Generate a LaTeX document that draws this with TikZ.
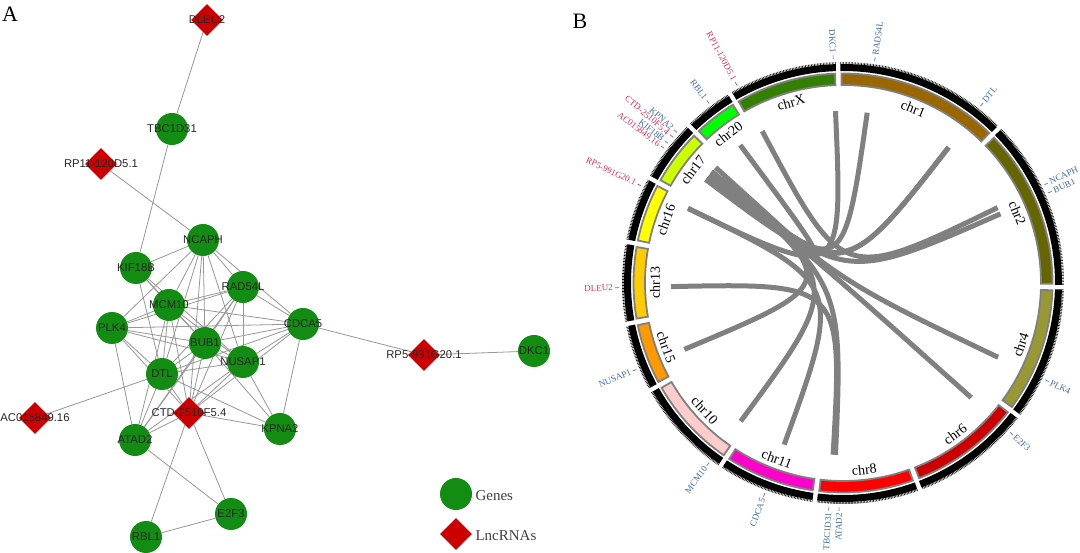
\documentclass[tikz,border=0pt]{standalone}
\usepackage{fontspec}
\setmainfont{Liberation Serif}
\newfontfamily\arialfont{Liberation Sans}
\usetikzlibrary{shapes.geometric}
\definecolor{genegreen}{RGB}{18,140,18}
\definecolor{lncred}{RGB}{204,0,0}
\definecolor{edgegray}{RGB}{150,150,150}
\definecolor{chordgray}{RGB}{128,128,128}
\definecolor{gblue}{RGB}{60,105,175}
\definecolor{gred}{RGB}{228,40,85}
\definecolor{cchr1}{RGB}{153,102,0}
\definecolor{cchr2}{RGB}{102,102,0}
\definecolor{cchr4}{RGB}{153,153,51}
\definecolor{cchr6}{RGB}{204,0,0}
\definecolor{cchr8}{RGB}{255,0,0}
\definecolor{cchr11}{RGB}{255,0,204}
\definecolor{cchr10}{RGB}{255,204,204}
\definecolor{cchr15}{RGB}{255,153,0}
\definecolor{cchr13}{RGB}{255,204,0}
\definecolor{cchr16}{RGB}{255,255,0}
\definecolor{cchr17}{RGB}{204,255,0}
\definecolor{cchr20}{RGB}{0,255,0}
\definecolor{cchrX}{RGB}{51,128,0}
\pgfdeclarelayer{background}
\pgfsetlayers{background,main}
\tikzset{gene/.style={circle,fill=genegreen,minimum size=32pt,inner sep=0pt,
            text=black!85,font=\arialfont\fontsize{11.3}{13}\selectfont},
    lnc/.style={diamond,fill=lncred,minimum size=32pt,inner sep=0pt,
            text=black!85,font=\arialfont\fontsize{11.3}{13}\selectfont},
    ppi/.style={draw=edgegray,line width=0.8pt},
    chord/.style={draw=chordgray,line width=5pt},
    chrname/.style={font=\fontsize{14}{16}\selectfont},
    glab/.style={font=\fontsize{9}{10}\selectfont,inner sep=1pt},
    keytext/.style={anchor=west,text=black!75,font=\fontsize{15}{17}\selectfont}
}

\begin{document}
\begin{tikzpicture}[x=1pt,y=1pt]
           \useasboundingbox (0,0) rectangle (1080,-553);
           \node[font=\fontsize{22}{24}\selectfont] (panelA) at (10,-14) {A};
           \node[font=\fontsize{22}{24}\selectfont] (panelB) at (580,-21) {B};
           % network
           \node[lnc] (DLEU2) at (207,-20) {\makebox[0pt]{DLEU2}};
           \node[gene] (TBC1D31) at (172,-129) {\makebox[0pt]{TBC1D31}};
           \node[lnc] (RP11) at (101,-164) {\makebox[0pt]{RP11-120D5.1}};
           \node[gene] (NCAPH) at (203,-240) {\makebox[0pt]{NCAPH}};
           \node[gene] (KIF18B) at (136,-268) {\makebox[0pt]{KIF18B}};
           \node[gene] (RAD54L) at (243,-287) {\makebox[0pt]{RAD54L}};
           \node[gene] (MCM10) at (169,-305) {\makebox[0pt]{MCM10}};
           \node[gene] (PLK4) at (112,-328) {\makebox[0pt]{PLK4}};
           \node[gene] (CDCA5) at (303,-324) {\makebox[0pt]{CDCA5}};
           \node[gene] (BUB1) at (205,-343) {\makebox[0pt]{BUB1}};
           \node[gene] (NUSAP1) at (243,-362) {\makebox[0pt]{NUSAP1}};
           \node[gene] (DTL) at (162,-374) {\makebox[0pt]{DTL}};
           \node[lnc] (CTD) at (189,-413) {\makebox[0pt]{CTD-2510F5.4}};
           \node[lnc] (AC0158) at (35,-418) {\makebox[0pt]{AC015849.16}};
           \node[gene] (ATAD2) at (135,-440) {\makebox[0pt]{ATAD2}};
           \node[gene] (KPNA2) at (280,-429) {\makebox[0pt]{KPNA2}};
           \node[gene] (E2F3) at (231,-514) {\makebox[0pt]{E2F3}};
           \node[gene] (RBL1) at (146,-537) {\makebox[0pt]{RBL1}};
           \node[lnc] (RP5) at (424,-355) {\makebox[0pt]{RP5-991G20.1}};
           \node[gene] (DKC1) at (534,-351) {\makebox[0pt]{DKC1}};
           \begin{pgfonlayer}{background}
           \foreach \u/\v in {DLEU2/TBC1D31, TBC1D31/KIF18B, RP11/NCAPH, CDCA5/RP5, RP5/DKC1,
               DTL/AC0158, ATAD2/E2F3, E2F3/RBL1, RBL1/CTD, E2F3/CTD, PLK4/ATAD2,
               NCAPH/KIF18B, NCAPH/MCM10, NCAPH/PLK4, NCAPH/RAD54L, NCAPH/CDCA5, NCAPH/BUB1,
               NCAPH/NUSAP1, NCAPH/DTL, NCAPH/CTD,
               KIF18B/MCM10, KIF18B/BUB1, KIF18B/NUSAP1, KIF18B/DTL,
               RAD54L/MCM10, RAD54L/PLK4, RAD54L/CDCA5, RAD54L/BUB1, RAD54L/NUSAP1,
               RAD54L/DTL, RAD54L/CTD, RAD54L/ATAD2,
               MCM10/PLK4, MCM10/CDCA5, MCM10/BUB1, MCM10/NUSAP1, MCM10/DTL, MCM10/ATAD2, MCM10/CTD,
               PLK4/BUB1, PLK4/NUSAP1, PLK4/DTL, PLK4/CTD, PLK4/CDCA5,
               CDCA5/BUB1, CDCA5/NUSAP1, CDCA5/CTD, CDCA5/KPNA2, CDCA5/DTL,
               BUB1/NUSAP1, BUB1/DTL, BUB1/ATAD2, BUB1/CTD, BUB1/KPNA2,
               NUSAP1/DTL, NUSAP1/ATAD2, NUSAP1/CTD, NUSAP1/KPNA2,
               DTL/ATAD2, DTL/CTD, DTL/KPNA2, ATAD2/CTD, CTD/KPNA2}
               \draw[ppi] (\u) -- (\v);
           \end{pgfonlayer}
           % legend
           \node[gene] (keygene) at (456,-494) {};
           \node[keytext] (keygenetext) at (472,-496) {Genes};
           \node[lnc] (keylnc) at (456,-534) {};
           \node[keytext] (keylnctext) at (472,-536) {LncRNAs};
           % circos
           \begin{scope}[shift={(843,-283)}]
           \foreach \s/\e/\col/\nm in {91.3/44.8/cchr1/chr1, 44.8/-1.1/cchr2/chr2, -1.1/-37.2/cchr4/chr4,
               -37.2/-69.6/cchr6/chr6, -69.6/-97.4/cchr8/chr8, -97.4/-123.8/cchr11/chr11,
               -123.8/-150.9/cchr10/chr10, -150.9/-169.3/cchr15/chr15, 190.7/169.2/cchr13/chr13,
               169.2/151.5/cchr16/chr16, 151.5/134.4/cchr17/chr17, 134.4/120.8/cchr20/chr20,
               120.8/91.3/cchrX/chrX}{
               \pgfmathsetmacro\sa{\s-0.6}
               \pgfmathsetmacro\ea{\e+0.6}
               \pgfmathsetmacro\sb{\s-0.9}
               \pgfmathsetmacro\eb{\e+0.9}
               \pgfmathsetmacro\m{(\s+\e)/2}
               \pgfmathsetmacro\rot{\m>0 ? \m-90 : \m+90}
               \fill[black] (\sa:212pt) arc[start angle=\sa,end angle=\ea,radius=212pt]
                   -- (\ea:219pt) arc[start angle=\ea,end angle=\sa,radius=219pt] -- cycle;
               \draw[black,line width=2pt,dash pattern=on 0.6pt off 0.9pt] (\sa:220pt)
                   arc[start angle=\sa,end angle=\ea,radius=220pt];
               \filldraw[fill=\col,draw=gray,line width=1.8pt] (\sb:198pt) arc[start angle=\sb,end angle=\eb,radius=198pt]
                   -- (\eb:209.5pt) arc[start angle=\eb,end angle=\sb,radius=209.5pt] -- cycle;
               \node[chrname,rotate=\rot] at (\m:188pt) {\nm};
           }
           \foreach \a/\k in {92.5/DKC1, 81.9/RAD54L, 52.1/DTL, 26/NCAPH, 23.7/BUB1, -25.6/PLK4,
               -41.8/E2F3, -93.3/TBC1D31, -92.5/ATAD2, -110/CDCA5, -126.5/MCM10, -157.3/NUSAP1,
               -178.8/DLEU2, 154.3/RP5, 143/AC0158, 141.4/KIF18B, 139.8/CTD, 137.8/KPNA2,
               126.7/RBL1, 118/RP11}
               \coordinate (k\k) at (\a:172pt);
           \foreach \u/\v in {DLEU2/TBC1D31, RP11/NCAPH, RP5/CDCA5, RP5/DKC1, AC0158/DTL,
               CTD/RAD54L, CTD/DTL, CTD/BUB1, CTD/PLK4, CTD/E2F3, CTD/ATAD2, CTD/MCM10,
               CTD/NUSAP1, CTD/RBL1, CTD/KPNA2, CTD/KIF18B}
               \draw[chord] (k\u) .. controls (0,0) .. (k\v);
           \foreach \a/\gn/\col in {81.9/RAD54L/gblue, 52.1/DTL/gblue, 26/NCAPH/gblue, 23.7/BUB1/gblue,
               -25.6/PLK4/gblue, -41.8/E2F3/gblue}{
               \draw[\col,line width=0.6pt] (\a:224pt) -- (\a:228pt);
               \node[glab,text=\col,rotate=\a,anchor=west] at (\a:229pt) {\gn};
           }
           \foreach \a/\gn/\col in {92.5/DKC1/gblue, -93.6/TBC1D31/gblue, -91/ATAD2/gblue,
               -110.4/CDCA5/gblue, -126.7/MCM10/gblue, -157.3/NUSAP1/gblue, -178.8/DLEU2/gred,
               154.3/RP5-991G20.1/gred, 143/AC015849.16/gred, 141.4/KIF18B/gblue,
               139.4/CTD-2510F5.4/gred, 137.8/KPNA2/gblue, 126.7/RBL1/gblue, 118.2/RP11-120D5.1/gred}{
               \pgfmathsetmacro\ra{\a+180}
               \draw[\col,line width=0.6pt] (\a:224pt) -- (\a:228pt);
               \node[glab,text=\col,rotate=\ra,anchor=east] at (\a:229pt) {\gn};
           }
           \end{scope}
\end{tikzpicture}
\end{document}
